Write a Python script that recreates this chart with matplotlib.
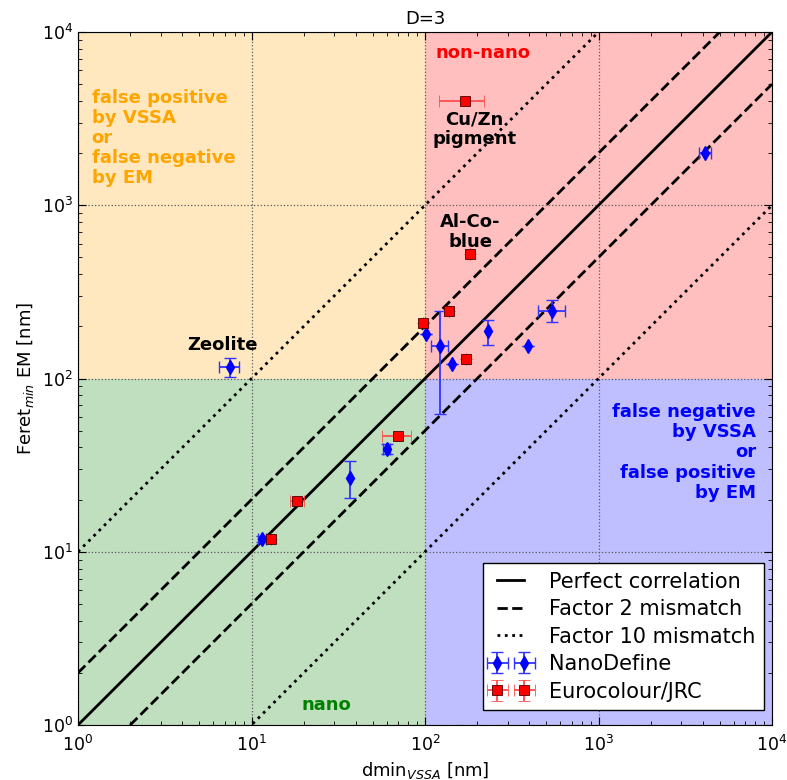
import numpy as np
import matplotlib.pyplot as plt

# NanoDefine (blue diamonds)
nd_x = [7.5, 11.5, 37, 60, 102, 122, 144, 231, 391, 543, 4095]
nd_y = [116, 11.9, 26.8, 39.2, 180, 154, 122, 188, 155, 246, 2012]
nd_xerr_lo = [1.0, 0.6, 0, 3, 0, 13, 0, 0, 0, 97, 310]
nd_xerr_hi = [0.95, 0.6, 0, 3, 0, 13, 0, 0, 0, 101, 340]
nd_yerr_lo = [14, 0.5, 6.5, 2.5, 0, 92, 0, 32, 0, 34, 0]
nd_yerr_hi = [16, 0.5, 6.6, 2.5, 0, 91, 0, 30, 0, 37, 0]

# Eurocolour/JRC (red squares)
ec_x = [13.0, 18.4, 70, 98, 137, 172, 182, 170]
ec_y = [11.8, 19.7, 46.4, 208, 246, 129, 523, 4000]
ec_xerr_lo = [0, 1.7, 13.5, 0, 0, 0, 0, 50]
ec_xerr_hi = [0, 1.7, 13.4, 0, 0, 0, 0, 49]

line_x = np.array([1, 1e4])

fig = plt.figure(figsize=(7.87, 7.80), dpi=100)
ax = fig.add_axes([78 / 787, 55 / 780, 694 / 787, 693 / 780])
ax.set_xscale('log')
ax.set_yscale('log')

# quadrants
ax.fill_between([1, 100], 1, 100, color='green', alpha=0.25, lw=0)
ax.fill_between([1, 100], 100, 1e4, color='orange', alpha=0.25, lw=0)
ax.fill_between([100, 1e4], 100, 1e4, color='red', alpha=0.25, lw=0)
ax.fill_between([100, 1e4], 1, 100, color='blue', alpha=0.25, lw=0)

ax.plot(line_x, line_x, 'k-', lw=2, label='Perfect correlation')
ax.plot(line_x, 2 * line_x, 'k--', lw=2, label='Factor 2 mismatch')
ax.plot(line_x, line_x / 2, 'k--', lw=2)
ax.plot(line_x, 10 * line_x, 'k:', lw=2, label='Factor 10 mismatch')
ax.plot(line_x, line_x / 10, 'k:', lw=2)

ax.errorbar(nd_x, nd_y, xerr=[nd_xerr_lo, nd_xerr_hi],
            yerr=[nd_yerr_lo, nd_yerr_hi], fmt='d', color='blue',
            ecolor=(0.2, 0.2, 1.0), ms=7, mec='blue', capsize=4,
            elinewidth=1.3, label='NanoDefine')
ax.errorbar(ec_x, ec_y, xerr=[ec_xerr_lo, ec_xerr_hi], yerr=0,
            fmt='s', color='red', ecolor=(1.0, 0.3, 0.3), ms=7.5,
            mec=(0.3, 0, 0), mew=0.6, capsize=4, elinewidth=1.3,
            label='Eurocolour/JRC')

ax.set_xlim(1, 1e4)
ax.set_ylim(1, 1e4)
ax.grid(True, which='major', ls=':', color='0.35', lw=0.9)
ax.tick_params(which='both', direction='in', top=True, right=True, labelsize=12.5)
ax.tick_params(which='major', length=6)
ax.tick_params(which='minor', length=3)
ax.tick_params(axis='x', pad=7)

ax.set_title('D=3', fontsize=13)
ax.set_xlabel('dmin$_{VSSA}$ [nm]', fontsize=13)
ax.set_ylabel('Feret$_{min}$ EM [nm]', fontsize=13)

tb = dict(fontsize=13, fontweight='bold')
ax.text(1.2, 4700, 'false positive\nby VSSA\nor\nfalse negative\nby EM',
        color='orange', va='top', ha='left', linespacing=1.15, **tb)
ax.text(8100, 72, 'false negative\nby VSSA\nor\nfalse positive\nby EM',
        color='blue', va='top', ha='right', multialignment='right',
        linespacing=1.15, **tb)
ax.text(216, 7600, 'non-nano', color='red', ha='center', va='center', **tb)
ax.text(27, 1.3, 'nano', color='green', ha='center', va='center', **tb)
ax.text(6.8, 157, 'Zeolite', color='k', ha='center', va='center', **tb)
ax.text(192, 2750, 'Cu/Zn\npigment', color='k', ha='center', va='center',
        linespacing=1.15, **tb)
ax.text(182, 700, 'Al-Co-\nblue', color='k', ha='center', va='center',
        linespacing=1.15, **tb)

leg = ax.legend(loc='lower right', numpoints=2, fontsize=15, fancybox=False,
                framealpha=1, edgecolor='k', labelspacing=0.36,
                handlelength=1.9, handletextpad=0.9,
                bbox_to_anchor=(764 / 787, 70 / 780),
                bbox_transform=fig.transFigure, borderaxespad=0)
leg.get_frame().set_linewidth(1)

fig.savefig('out.png', dpi=100)
